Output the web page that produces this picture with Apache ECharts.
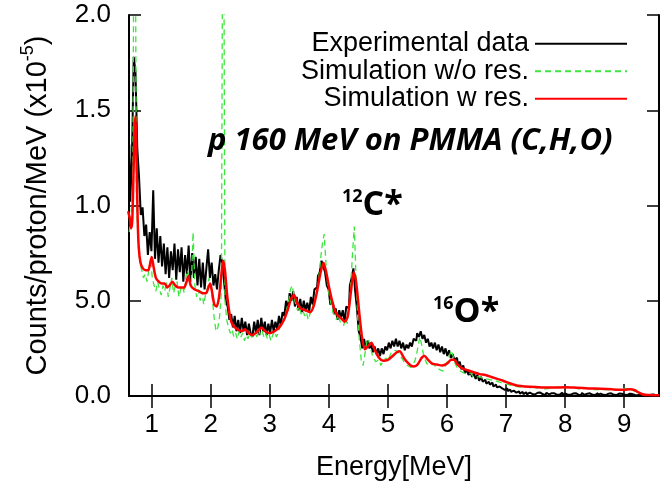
<!DOCTYPE html>
<html><head><meta charset="utf-8">
<script src="https://cdn.jsdelivr.net/npm/echarts@6/dist/echarts.min.js"></script>
<style>html,body{margin:0;padding:0;background:#fff}#chart{width:663px;height:487px}</style>
</head><body><div id="chart"></div>
<script>
// ---- tick labels / names ----
const xTicks = [1, 2, 3, 4, 5, 6, 7, 8, 9];
const yTickValues = [0, 0.5, 1.0, 1.5, 2.0];
const yTickLabels = ['0.0', '5.0', '1.0', '1.5', '2.0'];
const seriesNames = ['Experimental data', 'Simulation w/o res.', 'Simulation w res.'];

// ---- histogram bins (MeV) shared by experiment and simulation w/o res. ----
const binStart = 0.62;
const binWidth = 0.03;

// Experimental data (x1e-5 counts/proton/MeV)
const expV = [
  1.32,1.02,1.25,1.78,1.70,1.30,1.15,0.95,0.99,0.84,
  0.90,0.74,0.86,0.76,1.08,0.72,0.88,0.70,0.84,0.68,
  0.80,0.64,0.78,0.62,0.76,0.66,0.80,0.61,0.77,0.65,
  0.78,0.60,0.74,0.64,0.79,0.60,0.75,0.62,0.73,0.58,
  0.72,0.57,0.70,0.56,0.67,0.77,0.62,0.70,0.58,0.64,
  0.56,0.66,0.74,0.70,0.60,0.50,0.47,0.40,0.43,0.36,
  0.42,0.34,0.40,0.33,0.41,0.34,0.39,0.32,0.38,0.33,
  0.31,0.39,0.33,0.40,0.32,0.41,0.34,0.39,0.32,0.38,
  0.33,0.40,0.34,0.39,0.35,0.42,0.37,0.44,0.42,0.50,
  0.45,0.54,0.50,0.55,0.47,0.52,0.45,0.51,0.44,0.50,
  0.45,0.49,0.44,0.52,0.48,0.56,0.57,0.63,0.65,0.71,
  0.68,0.65,0.58,0.56,0.48,0.49,0.43,0.46,0.40,0.45,
  0.41,0.45,0.39,0.47,0.46,0.58,0.62,0.67,0.55,0.46,
  0.34,0.31,0.25,0.30,0.25,0.29,0.25,0.27,0.23,0.26,
  0.22,0.25,0.21,0.25,0.22,0.26,0.24,0.28,0.25,0.29,
  0.26,0.30,0.26,0.29,0.25,0.28,0.24,0.27,0.25,0.28,
  0.26,0.30,0.29,0.33,0.31,0.34,0.30,0.32,0.28,0.30,
  0.26,0.28,0.25,0.28,0.24,0.27,0.23,0.26,0.22,0.25,
  0.21,0.24,0.20,0.22,0.19,0.20,0.16,0.18,0.14,0.16,
  0.12,0.14,0.11,0.13,0.10,0.12,0.09,0.11,0.08,0.10,
  0.075,0.085,0.065,0.075,0.06,0.07,0.05,0.06,0.045,0.05,
  0.04,0.048,0.032,0.04,0.026,0.034,0.022,0.028,0.018,0.024,
  0.024,0.012,0.022,0.010,0.020,0.009,0.018,0.011,0.019,0.008,
  0.017,0.007,0.018,0.009,0.016,0.006,0.017,0.008,0.015,0.006,
  0.014,0.006,0.016,0.008,0.018,0.005,0.013,0.007,0.015,0.006,
  0.013,0.005,0.015,0.007,0.014,0.004,0.016,0.006,0.012,0.005,
  0.014,0.006,0.012,0.005,0.015,0.004,0.013,0.006,0.011,0.005,
  0.012,0.004,0.014,0.006,0.011,0.005,0.013,0.004,0.012,0.006,
  0.011,0.005,0.012,0.004,0.010,0.005,0.011,0.004,0.009,0.004,
  0.008,0.003,0.009,0.004,0.007,0.003,0.008,0.003,0.006,0.003
];

// Simulation without resonances
const simNoResV = [
  0.86,0.95,1.10,3.50,1.05,0.80,0.70,0.66,0.62,0.64,
  0.60,0.66,0.72,0.62,0.58,0.55,0.60,0.56,0.53,0.58,
  0.55,0.60,0.52,0.57,0.62,0.54,0.58,0.60,0.52,0.56,
  0.58,0.54,0.63,0.66,0.60,0.58,0.86,0.58,0.52,0.56,
  0.50,0.55,0.48,0.53,0.56,0.62,0.58,0.50,0.40,0.34,
  0.36,0.42,0.55,3.50,0.50,0.40,0.36,0.33,0.35,0.31,
  0.33,0.30,0.34,0.31,0.33,0.29,0.32,0.30,0.33,0.31,
  0.30,0.33,0.31,0.35,0.32,0.34,0.31,0.33,0.30,0.32,
  0.29,0.32,0.34,0.31,0.33,0.36,0.35,0.39,0.42,0.46,
  0.50,0.56,0.58,0.52,0.48,0.45,0.47,0.43,0.45,0.42,
  0.44,0.40,0.43,0.46,0.48,0.50,0.55,0.62,0.72,0.80,
  0.85,0.70,0.58,0.52,0.48,0.44,0.42,0.40,0.43,0.39,
  0.40,0.37,0.41,0.38,0.45,0.58,0.75,0.89,0.62,0.40,
  0.28,0.18,0.16,0.22,0.28,0.30,0.26,0.22,0.20,0.18,
  0.17,0.19,0.16,0.18,0.17,0.20,0.18,0.21,0.23,0.22,
  0.24,0.25,0.23,0.21,0.20,0.18,0.17,0.16,0.17,0.15,
  0.16,0.18,0.21,0.26,0.31,0.27,0.22,0.19,0.17,0.16,
  0.16,0.15,0.17,0.15,0.16,0.14,0.15,0.13,0.15,0.17,
  0.19,0.22,0.24,0.20,0.17,0.15,0.14,0.13,0.14,0.12,
  0.13,0.12,0.11,0.12,0.10,0.11,0.10,0.09,0.10,0.09,
  0.09,0.08,0.09,0.08,0.085,0.075,0.08,0.07,0.075,0.065,
  0.07,0.06,0.065,0.055,0.06,0.05,0.055,0.045,0.05,0.045,
  0.048,0.04,0.045,0.042,0.05,0.04,0.044,0.038,0.045,0.04,
  0.042,0.038,0.046,0.040,0.036,0.044,0.039,0.047,0.041,0.037,
  0.043,0.039,0.048,0.041,0.045,0.038,0.044,0.040,0.046,0.039,
  0.042,0.037,0.044,0.040,0.036,0.043,0.039,0.035,0.041,0.038,
  0.036,0.040,0.034,0.038,0.035,0.039,0.033,0.037,0.034,0.038,
  0.033,0.036,0.031,0.035,0.032,0.036,0.030,0.034,0.038,0.035,
  0.040,0.034,0.037,0.032,0.030,0.028,0.024,0.018,0.012,0.009,
  0.007,0.006,0.005,0.006,0.004,0.005,0.004,0.005,0.004,0.004
];

// Simulation with resonances (smooth curve)
const simResE = [
  0.60,0.63,0.65,0.67,0.69,0.71,0.725,0.74,0.76,0.78,0.81,0.85,0.90,0.94,0.97,1.00,1.03,1.07,1.12,1.17,
  1.22,1.26,1.30,1.35,1.40,1.45,1.50,1.55,1.59,1.62,1.66,1.72,1.80,1.86,1.92,1.96,1.99,2.02,2.06,2.10,
  2.14,2.18,2.21,2.24,2.28,2.33,2.38,2.45,2.52,2.58,2.64,2.70,2.76,2.82,2.86,2.92,3.00,3.08,3.16,3.24,
  3.30,3.36,3.41,3.46,3.52,3.60,3.68,3.74,3.80,3.86,3.91,3.96,4.01,4.07,4.13,4.20,4.27,4.32,4.37,4.42,
  4.46,4.51,4.56,4.61,4.66,4.72,4.78,4.85,4.92,5.00,5.08,5.15,5.20,5.27,5.35,5.43,5.50,5.57,5.62,5.68,
  5.75,5.83,5.92,6.00,6.07,6.12,6.18,6.26,6.35,6.45,6.55,6.65,6.75,6.85,6.95,7.05,7.15,7.25,7.40,7.60,
  7.80,8.00,8.20,8.40,8.60,8.80,9.00,9.10,9.18,9.25,9.32,9.40,9.59
];
const simResV = [
  0.97,0.93,0.88,0.92,1.15,1.40,1.47,1.30,0.95,0.78,0.70,0.67,0.66,0.66,0.69,0.73,0.68,0.62,0.60,0.59,
  0.59,0.57,0.58,0.60,0.58,0.57,0.57,0.57,0.60,0.63,0.58,0.56,0.55,0.54,0.54,0.57,0.59,0.55,0.48,0.47,
  0.52,0.64,0.71,0.66,0.52,0.41,0.37,0.35,0.34,0.35,0.33,0.32,0.33,0.35,0.36,0.34,0.33,0.34,0.36,0.40,
  0.45,0.51,0.53,0.49,0.46,0.45,0.44,0.47,0.55,0.65,0.70,0.64,0.56,0.48,0.43,0.41,0.39,0.42,0.54,0.65,
  0.60,0.45,0.31,0.245,0.26,0.28,0.24,0.20,0.185,0.19,0.21,0.23,0.235,0.20,0.17,0.155,0.165,0.20,0.21,0.19,
  0.17,0.165,0.16,0.17,0.19,0.19,0.165,0.145,0.135,0.125,0.115,0.11,0.10,0.09,0.08,0.068,0.058,0.052,0.048,0.045,
  0.044,0.046,0.043,0.040,0.038,0.035,0.033,0.035,0.030,0.018,0.008,0.005,0.004
];

// ---- build data pairs ----
const expData = expV.map((v, i) => [+(binStart + i * binWidth).toFixed(3), v]);
const simNoResData = simNoResV.map((v, i) => [+(binStart + i * binWidth).toFixed(3), v]);
const simResData = simResV.map((v, i) => [simResE[i], v]);

const FONT = 'Liberation Sans';
const XMIN = 0.615, XMAX = 9.59;

const tickStyle = {color: '#000', width: 1.5};
const lineAx = {show: true, lineStyle: {color: '#000', width: 2}};

const chart = echarts.init(document.getElementById('chart'), null, {renderer: 'canvas'});
chart.setOption({
  animation: false,
  backgroundColor: '#ffffff',
  grid: {left: 129, right: 4, top: 15, bottom: 91},
  legend: {
    orient: 'vertical', right: 30, top: 25, align: 'right',
    itemWidth: 92, itemHeight: 20, itemGap: 0,
    itemStyle: {opacity: 0},
    textStyle: {fontFamily: FONT, fontSize: 27, color: '#000', lineHeight: 27.5, padding: [0, 1, 0, 0]},
    data: seriesNames
  },
  xAxis: [{
    type: 'value', min: XMIN, max: XMAX, position: 'bottom',
    axisLine: lineAx,
    axisTick: {show: true, inside: true, length: 12, customValues: xTicks, lineStyle: tickStyle},
    axisLabel: {customValues: xTicks, fontFamily: FONT, fontSize: 26, color: '#000', margin: 16},
    splitLine: {show: false},
    name: 'Energy[MeV]', nameLocation: 'middle', nameGap: 58,
    nameTextStyle: {fontFamily: FONT, fontSize: 27, color: '#000'}
  }, {
    type: 'value', min: XMIN, max: XMAX, position: 'top',
    axisLine: lineAx,
    axisTick: {show: true, inside: true, length: 12, customValues: xTicks, lineStyle: tickStyle},
    axisLabel: {show: false},
    splitLine: {show: false}
  }],
  yAxis: [{
    type: 'value', min: 0, max: 2, interval: 0.5, position: 'left',
    axisLine: lineAx,
    axisTick: {show: true, inside: true, length: 12, lineStyle: tickStyle},
    axisLabel: {
      fontFamily: FONT, fontSize: 26, color: '#000', margin: 18,
      formatter: v => { const k = yTickValues.findIndex(t => Math.abs(t - v) < 1e-9); return k >= 0 ? yTickLabels[k] : ''; }
    },
    splitLine: {show: false},
    name: '{a|Counts/proton/MeV (x10}{s|-5}{a|)}', nameLocation: 'middle', nameGap: 72, nameRotate: 90,
    nameTextStyle: {
      rich: {
        a: {fontFamily: FONT, fontSize: 29, lineHeight: 38, color: '#000'},
        s: {fontFamily: FONT, fontSize: 18, lineHeight: 18, verticalAlign: 'top', color: '#000'}
      }
    }
  }, {
    type: 'value', min: 0, max: 2, interval: 0.5, position: 'right',
    axisLine: lineAx,
    axisTick: {show: true, inside: true, length: 12, lineStyle: tickStyle},
    axisLabel: {show: false},
    splitLine: {show: false}
  }],
  series: [{
    name: seriesNames[0], type: 'line', data: expData, step: 'middle',
    symbol: 'none', lineStyle: {color: '#000', width: 2}, itemStyle: {color: '#000'}, z: 2
  }, {
    name: seriesNames[1], type: 'line', data: simNoResData,
    symbol: 'none', lineStyle: {color: '#3ce63c', width: 1.3, type: [6, 4]}, itemStyle: {color: '#3ce63c'}, z: 3
  }, {
    name: seriesNames[2], type: 'line', data: simResData, smooth: 0.25,
    symbol: 'none', lineStyle: {color: '#ff0000', width: 2.5}, itemStyle: {color: '#ff0000'}, z: 4
  }],
  graphic: [{
    type: 'text', x: 208, y: 141, z: 10,
    style: {text: 'p 160 MeV on PMMA (C,H,O)', font: 'italic bold 31px "Open Sans"', fill: '#000', align: 'left', verticalAlign: 'middle'}
  }, {
    type: 'text', x: 342, y: 205, z: 10,
    style: {
      text: '{s|12}{b|C*}', align: 'left', verticalAlign: 'middle', fill: '#000',
      rich: {s: {font: 'bold 18px "Open Sans"', lineHeight: 18, verticalAlign: 'top', fill: '#000'},
             b: {font: 'bold 34px "Open Sans"', lineHeight: 34, fill: '#000'}}
    }
  }, {
    type: 'text', x: 433, y: 312, z: 10,
    style: {
      text: '{s|16}{b|O*}', align: 'left', verticalAlign: 'middle', fill: '#000',
      rich: {s: {font: 'bold 18px "Open Sans"', lineHeight: 18, verticalAlign: 'top', fill: '#000'},
             b: {font: 'bold 34px "Open Sans"', lineHeight: 34, fill: '#000'}}
    }
  }]
});
</script>
</body></html>
